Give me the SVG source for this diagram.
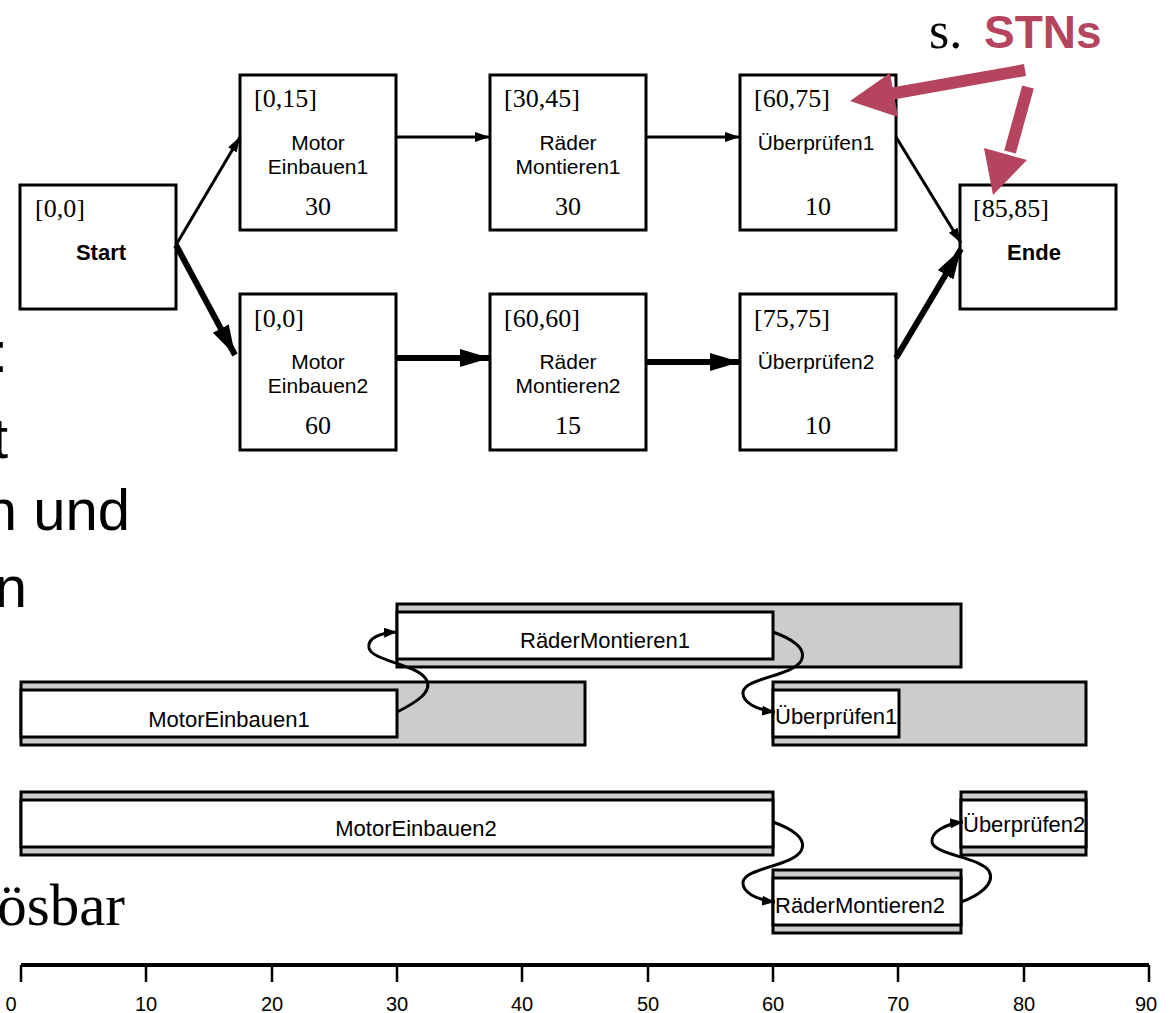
<svg xmlns="http://www.w3.org/2000/svg" width="1174" height="1013" viewBox="0 0 1174 1013">
<style>
.box{fill:#fff;stroke:#000;stroke-width:3}
.ser{font-family:"Liberation Serif",serif;font-size:26px;fill:#000}
.san{font-family:"Liberation Sans",sans-serif;font-size:21px;fill:#000;text-anchor:middle}
.bold{font-family:"Liberation Sans",sans-serif;font-size:22px;font-weight:bold;fill:#000;text-anchor:middle}
.thin{stroke:#000;stroke-width:3;fill:none}
.thick{stroke:#000;stroke-width:6;fill:none}
.outer{fill:#cccccc;stroke:#000;stroke-width:3}
.inner{fill:#fff;stroke:#000;stroke-width:3}
.gl{font-family:"Liberation Sans",sans-serif;font-size:22px;fill:#000}
.curve{stroke:#000;stroke-width:3;fill:none}
.ax{font-family:"Liberation Sans",sans-serif;font-size:20px;fill:#000;text-anchor:middle}
.big{font-family:"Liberation Sans",sans-serif;font-size:58px;fill:#000;text-anchor:end}
.pink{fill:#b5455f}
</style>
<defs>
<marker id="ah" markerUnits="userSpaceOnUse" markerWidth="16" markerHeight="12" refX="15" refY="5" orient="auto"><path d="M0,0 L15,5 L0,10 z" fill="#000"/></marker>
<marker id="ahT" markerUnits="userSpaceOnUse" markerWidth="32" markerHeight="20" refX="30" refY="9" orient="auto"><path d="M0,0 L30,9 L0,18 z" fill="#000"/></marker>
<marker id="ahG" markerUnits="userSpaceOnUse" markerWidth="14" markerHeight="12" refX="13" refY="5" orient="auto"><path d="M0,0 L13,5 L0,10 z" fill="#000"/></marker>
</defs>

<!-- left cut-off slide text -->
<g id="slide-text">
<text class="big" x="8" y="372">:</text>
<text class="big" x="8" y="458">t</text>
<text class="big" x="130" y="530">n und</text>
<text class="big" x="27" y="607">n</text>
<text x="125" y="925" style="font-family:'Liberation Serif',serif;font-size:59px;text-anchor:end;fill:#000">ösbar</text>
</g>

<!-- network nodes -->
<g id="n-start"><rect class="box" x="20" y="185" width="156" height="124"/><text class="ser" x="35" y="217">[0,0]</text><text class="bold" x="101" y="260">Start</text></g>
<g id="n-me1"><rect class="box" x="240" y="75" width="156" height="155"/><text class="ser" x="254" y="107">[0,15]</text><text class="san" x="318" y="150">Motor</text><text class="san" x="318" y="174">Einbauen1</text><text class="ser" x="318" y="215" text-anchor="middle">30</text></g>
<g id="n-rm1"><rect class="box" x="490" y="75" width="156" height="155"/><text class="ser" x="504" y="107">[30,45]</text><text class="san" x="568" y="150">Räder</text><text class="san" x="568" y="174">Montieren1</text><text class="ser" x="568" y="215" text-anchor="middle">30</text></g>
<g id="n-ue1"><rect class="box" x="740" y="75" width="156" height="155"/><text class="ser" x="754" y="107">[60,75]</text><text class="san" x="816" y="150">Überprüfen1</text><text class="ser" x="818" y="215" text-anchor="middle">10</text></g>
<g id="n-ende"><rect class="box" x="960" y="185" width="156" height="124"/><text class="ser" x="973" y="217">[85,85]</text><text class="bold" x="1034" y="260">Ende</text></g>
<g id="n-me2"><rect class="box" x="240" y="294" width="156" height="156"/><text class="ser" x="254" y="327">[0,0]</text><text class="san" x="318" y="369">Motor</text><text class="san" x="318" y="393">Einbauen2</text><text class="ser" x="318" y="434" text-anchor="middle">60</text></g>
<g id="n-rm2"><rect class="box" x="490" y="294" width="156" height="156"/><text class="ser" x="504" y="327">[60,60]</text><text class="san" x="568" y="369">Räder</text><text class="san" x="568" y="393">Montieren2</text><text class="ser" x="568" y="434" text-anchor="middle">15</text></g>
<g id="n-ue2"><rect class="box" x="740" y="294" width="156" height="156"/><text class="ser" x="754" y="327">[75,75]</text><text class="san" x="816" y="369">Überprüfen2</text><text class="ser" x="818" y="434" text-anchor="middle">10</text></g>

<!-- annotation -->
<g id="note">
<text x="929" y="48" style="font-family:'Liberation Serif',serif;font-size:52px;fill:#000">s.</text>
<text x="984" y="48" class="pink" style="font-family:'Liberation Sans',sans-serif;font-size:46px;font-weight:bold">STNs</text>
</g>

<!-- gantt bars -->
<g id="g-rm1"><rect class="outer" x="397" y="604" width="564" height="63"/><rect class="inner" x="397" y="612" width="376" height="47"/><text class="gl" x="605" y="648" text-anchor="middle">RäderMontieren1</text></g>
<g id="g-me1"><rect class="outer" x="21" y="682" width="564" height="63"/><rect class="inner" x="21" y="690" width="376" height="47"/><text class="gl" x="229" y="727" text-anchor="middle">MotorEinbauen1</text></g>
<g id="g-ue1"><rect class="outer" x="773" y="682" width="313" height="63"/><rect class="inner" x="773" y="690" width="126" height="47"/><text class="gl" x="775" y="724">Überprüfen1</text></g>
<g id="g-me2"><rect class="outer" x="21" y="792" width="752" height="63"/><rect class="inner" x="21" y="800" width="752" height="47"/><text class="gl" x="416" y="836" text-anchor="middle">MotorEinbauen2</text></g>
<g id="g-ue2"><rect class="outer" x="961" y="792" width="125" height="63"/><rect class="inner" x="961" y="800" width="125" height="47"/><text class="gl" x="963" y="832">Überprüfen2</text></g>
<g id="g-rm2"><rect class="outer" x="773" y="870" width="188" height="63"/><rect class="inner" x="773" y="878" width="188" height="47"/><text class="gl" x="775" y="913">RäderMontieren2</text></g>

<!-- axis -->
<g id="axis">
<line x1="21" y1="965" x2="1149" y2="965" stroke="#000" stroke-width="4"/>
<g stroke="#000" stroke-width="2.5">
<line x1="21" y1="965" x2="21" y2="982"/><line x1="146" y1="965" x2="146" y2="982"/><line x1="272" y1="965" x2="272" y2="982"/><line x1="397" y1="965" x2="397" y2="982"/><line x1="522" y1="965" x2="522" y2="982"/><line x1="648" y1="965" x2="648" y2="982"/><line x1="773" y1="965" x2="773" y2="982"/><line x1="898" y1="965" x2="898" y2="982"/><line x1="1024" y1="965" x2="1024" y2="982"/><line x1="1149" y1="965" x2="1149" y2="982"/>
</g>
<text class="ax" x="11" y="1011" text-anchor="start">0</text><text class="ax" x="146" y="1011">10</text><text class="ax" x="272" y="1011">20</text><text class="ax" x="397" y="1011">30</text><text class="ax" x="522" y="1011">40</text><text class="ax" x="648" y="1011">50</text><text class="ax" x="773" y="1011">60</text><text class="ax" x="898" y="1011">70</text><text class="ax" x="1024" y="1011">80</text><text class="ax" x="1146" y="1011">90</text>
</g>

<!-- connectors -->
<g id="connectors">
<line class="thin" x1="176" y1="245" x2="240" y2="137" marker-end="url(#ah)"/>
<line class="thick" x1="176" y1="245" x2="235" y2="355" marker-end="url(#ahT)"/>
<line class="thin" x1="396" y1="137" x2="490" y2="137" marker-end="url(#ah)"/>
<line class="thin" x1="646" y1="137" x2="740" y2="137" marker-end="url(#ah)"/>
<line class="thin" x1="896" y1="137" x2="961" y2="243" marker-end="url(#ah)"/>
<line class="thick" x1="396" y1="358" x2="490" y2="358" marker-end="url(#ahT)"/>
<line class="thick" x1="646" y1="362" x2="740" y2="362" marker-end="url(#ahT)"/>
<line class="thick" x1="896" y1="358" x2="961" y2="249" marker-end="url(#ahT)"/>
<line x1="1025" y1="70" x2="890" y2="94" stroke="#b5455f" stroke-width="12"/>
<polygon class="pink" points="850,101 890,73 898,117"/>
<line x1="1028" y1="87" x2="1010" y2="152" stroke="#b5455f" stroke-width="12"/>
<polygon class="pink" points="993,195 984,148 1027,160"/>
<path class="curve" d="M397,712 C415,703 434,692 426,679 C416,664 372,661 369,648 C367,638 380,633 397,632" marker-end="url(#ahG)"/>
<path class="curve" d="M773,632 C790,638 808,648 801,661 C792,676 745,678 743,692 C742,702 756,710 775,712" marker-end="url(#ahG)"/>
<path class="curve" d="M773,822 C790,828 808,838 801,851 C792,866 745,868 743,882 C742,892 756,900 775,902" marker-end="url(#ahG)"/>
<path class="curve" d="M961,902 C978,896 996,884 989,871 C980,857 934,855 932,842 C931,832 945,824 963,822" marker-end="url(#ahG)"/>
</g>
</svg>
